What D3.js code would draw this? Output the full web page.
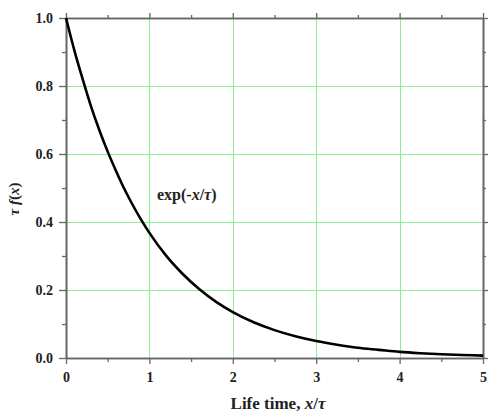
<!DOCTYPE html>
<html>
<head>
<meta charset="utf-8">
<script src="https://cdn.jsdelivr.net/npm/d3@7"></script>
<style>
  body { margin: 0; background: #fff; }
  svg { display: block; }
  text { font-family: "Liberation Serif", "DejaVu Serif", serif; font-weight: bold; fill: #222; }
</style>
</head>
<body>
<svg id="chart" width="488" height="412"></svg>
<script>
// values
const lifeTime = [0, 0.1, 0.2, 0.3, 0.4, 0.5, 0.6, 0.7, 0.8, 0.9, 1, 1.2, 1.4, 1.6, 1.8, 2, 2.25, 2.5, 2.75, 3, 3.25, 3.5, 3.75, 4, 4.25, 4.5, 4.75, 5];
const density = [1.0, 0.905, 0.82, 0.74, 0.67, 0.607, 0.55, 0.497, 0.45, 0.407, 0.368, 0.301, 0.247, 0.202, 0.165, 0.135, 0.105, 0.082, 0.064, 0.05, 0.039, 0.03, 0.024, 0.018, 0.014, 0.011, 0.009, 0.007];
const xTicks = [0, 1, 2, 3, 4, 5];
const yTicks = [0, 0.2, 0.4, 0.6, 0.8, 1.0];
const xMinor = [0.5, 1.5, 2.5, 3.5, 4.5];
const yMinor = [0.1, 0.3, 0.5, 0.7, 0.9];

const width = 488, height = 412;
const margin = { top: 18, right: 5, bottom: 54, left: 66 };

const svg = d3.select("#chart");

const x = d3.scaleLinear().domain([0, 5]).range([margin.left, width - margin.right]);
const y = d3.scaleLinear().domain([0, 1]).range([height - margin.bottom, margin.top]);
const px = v => Math.round(v) + 0.5;

const axisColor = "#666";
const gridColor = "#8ef08e";

/***
 * Grid
 */
const grid = svg.append("g");
grid.selectAll("line.v")
    .data(xTicks.filter(t => t > 0 && t < 5))
    .join("line")
    .attr("class", "v")
    .attr("x1", d => px(x(d))).attr("x2", d => px(x(d)))
    .attr("y1", y(0)).attr("y2", y(1))
    .attr("stroke", gridColor).attr("stroke-width", 1);
grid.selectAll("line.h")
    .data(yTicks.filter(t => t > 0 && t < 1))
    .join("line")
    .attr("class", "h")
    .attr("x1", x(0)).attr("x2", x(5))
    .attr("y1", d => px(y(d))).attr("y2", d => px(y(d)))
    .attr("stroke", gridColor).attr("stroke-width", 1);

/***
 * Axes (major + minor, all four sides)
 */
function styleAxis(g) {
    g.selectAll("path.domain").attr("stroke", axisColor).attr("stroke-width", 1.6);
    g.selectAll(".tick line").attr("stroke", axisColor).attr("stroke-width", 1.3);
    g.selectAll("text").attr("font-size", 14).attr("fill", "#222")
        .attr("font-family", "Liberation Serif, DejaVu Serif, serif").attr("font-weight", "bold");
}

svg.append("g")
    .attr("transform", `translate(0,${y(0)})`)
    .call(d3.axisBottom(x).tickValues(xTicks).tickFormat(d3.format("d")).tickSizeInner(6).tickSizeOuter(0).tickPadding(8))
    .call(styleAxis);
svg.append("g")
    .attr("transform", `translate(0,${y(0)})`)
    .call(d3.axisBottom(x).tickValues(xMinor).tickFormat("").tickSizeInner(4).tickSizeOuter(0))
    .call(styleAxis);

svg.append("g")
    .attr("transform", `translate(${x(0)},0)`)
    .call(d3.axisLeft(y).tickValues(yTicks).tickFormat(d3.format(".1f")).tickSizeInner(7).tickSizeOuter(0).tickPadding(6))
    .call(styleAxis);
svg.append("g")
    .attr("transform", `translate(${x(0)},0)`)
    .call(d3.axisLeft(y).tickValues(yMinor).tickFormat("").tickSizeInner(4).tickSizeOuter(0))
    .call(styleAxis);

svg.append("g")
    .attr("transform", `translate(0,${y(1)})`)
    .call(d3.axisTop(x).tickValues(xTicks).tickFormat("").tickSizeInner(5).tickSizeOuter(0))
    .call(styleAxis);
svg.append("g")
    .attr("transform", `translate(0,${y(1)})`)
    .call(d3.axisTop(x).tickValues(xMinor).tickFormat("").tickSizeInner(3).tickSizeOuter(0))
    .call(styleAxis);

svg.append("g")
    .attr("transform", `translate(${x(5)},0)`)
    .call(d3.axisRight(y).tickValues(yTicks).tickFormat("").tickSizeInner(5).tickSizeOuter(0))
    .call(styleAxis);
svg.append("g")
    .attr("transform", `translate(${x(5)},0)`)
    .call(d3.axisRight(y).tickValues(yMinor).tickFormat("").tickSizeInner(3).tickSizeOuter(0))
    .call(styleAxis);

/***
 * Curve
 */
const line = d3.line()
    .x((d, i) => x(lifeTime[i]))
    .y(d => y(d))
    .curve(d3.curveMonotoneX);

svg.append("path")
    .datum(density)
    .attr("d", line)
    .attr("fill", "none")
    .attr("stroke", "#000")
    .attr("stroke-width", 2.6);

/***
 * Labels
 */
const note = svg.append("text")
    .attr("x", 157).attr("y", 200)
    .attr("font-size", 16);
note.append("tspan").text("exp(-");
note.append("tspan").attr("font-style", "italic").text("x");
note.append("tspan").text("/");
note.append("tspan").attr("font-style", "italic").text("τ");
note.append("tspan").text(")");

const xLabel = svg.append("text")
    .attr("x", 278).attr("y", 409)
    .attr("text-anchor", "middle")
    .attr("font-size", 17);
xLabel.append("tspan").text("Life time, ");
xLabel.append("tspan").attr("font-style", "italic").text("x");
xLabel.append("tspan").text("/");
xLabel.append("tspan").attr("font-style", "italic").text("τ");

const yLabel = svg.append("text")
    .attr("transform", "translate(19,199) rotate(-90)")
    .attr("text-anchor", "middle")
    .attr("font-size", 15);
yLabel.append("tspan").attr("font-style", "italic").text("τ f");
yLabel.append("tspan").text("(");
yLabel.append("tspan").attr("font-style", "italic").text("x");
yLabel.append("tspan").text(")");
</script>
</body>
</html>
